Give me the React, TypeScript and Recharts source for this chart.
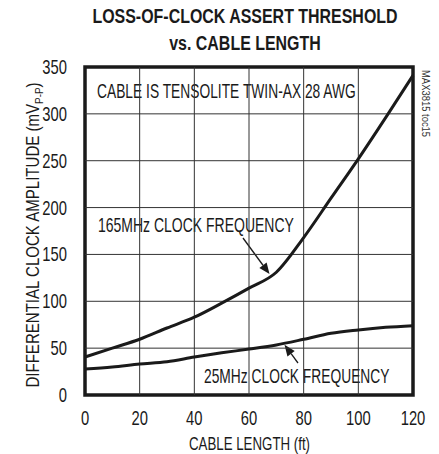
import { LineChart, Line, XAxis, YAxis, ReferenceLine, ReferenceArea, Customized } from 'recharts';

// cable length in feet
const lengths = [0, 10, 20, 30, 40, 50, 60, 70, 80, 90, 100, 110, 120];
// loss-of-clock assert threshold, mVp-p
const clk165 = [40.5, 50, 59.5, 71.5, 83, 98, 114, 131, 168, 210, 252, 296, 341];
const clk25 = [27.7, 30, 33, 35.5, 40.5, 45, 49, 53.4, 59.4, 65.8, 69.4, 72.2, 74];
const xTicks = [0, 20, 40, 60, 80, 100, 120];
const yTicks = [0, 50, 100, 150, 200, 250, 300, 350];

const data = lengths.map((len, i) => ({ len, f165: clk165[i], f25: clk25[i] }));

const W = 439;
const H = 454;
const PLOT = { left: 85, top: 67, right: 413, bottom: 395 };
const FONT = '"Liberation Sans", Arial, sans-serif';
const INK = '#1a1a1a';

// data -> pixel, only used to place the annotation boxes and arrows
const px = (v: number) => PLOT.left + (v / 120) * (PLOT.right - PLOT.left);
const py = (v: number) => PLOT.bottom - (v / 350) * (PLOT.bottom - PLOT.top);

// the original uses a condensed face, so squeeze Liberation Sans horizontally
function Narrow({ x, y, sx = 0.7, size = 20, anchor = 'start', weight, children }: any) {
  return (
    <text
      transform={`translate(${x},${y}) scale(${sx},1)`}
      fontSize={size}
      fontWeight={weight}
      textAnchor={anchor}
      fill={INK}
    >
      {children}
    </text>
  );
}

function XTick({ x, y, payload }: any) {
  return (
    <g fontFamily={FONT}>
      <Narrow x={x} y={y + 25} anchor="middle" sx={0.74}>
        {String(payload.value)}
      </Narrow>
    </g>
  );
}

function YTick({ x, y, payload }: any) {
  return (
    <g fontFamily={FONT}>
      <Narrow x={x} y={y + 7} anchor="end" sx={0.74}>
        {String(payload.value)}
      </Narrow>
    </g>
  );
}

function Arrow({ x1, y1, x2, y2 }: { x1: number; y1: number; x2: number; y2: number }) {
  const a = Math.atan2(y2 - y1, x2 - x1);
  const len = 11;
  const w = 4.5;
  const bx = x2 - len * Math.cos(a);
  const by = y2 - len * Math.sin(a);
  const p1 = `${bx + w * Math.sin(a)},${by - w * Math.cos(a)}`;
  const p2 = `${bx - w * Math.sin(a)},${by + w * Math.cos(a)}`;
  return (
    <g>
      <line x1={x1} y1={y1} x2={bx} y2={by} stroke={INK} strokeWidth={1.3} />
      <polygon points={`${x2},${y2} ${p1} ${p2}`} fill={INK} />
    </g>
  );
}

function Boxes() {
  return (
    <g>
      <rect x={px(4)} y={74} width={px(99) - px(4)} height={28} fill="#fff" />
      <rect x={px(4)} y={212} width={px(78) - px(4)} height={26} fill="#fff" />
      <rect x={px(42)} y={364} width={px(117) - px(42)} height={27} fill="#fff" />
    </g>
  );
}

function Overlay() {
  return (
    <g fontFamily={FONT}>
      {/* title */}
      <Narrow x={245} y={23} size={21} sx={0.76} weight="bold" anchor="middle">
        LOSS-OF-CLOCK ASSERT THRESHOLD
      </Narrow>
      <Narrow x={245} y={50} size={21} sx={0.76} weight="bold" anchor="middle">
        vs. CABLE LENGTH
      </Narrow>

      {/* y axis title */}
      <text
        transform="translate(39, 235) rotate(-90) scale(0.86,1)"
        textAnchor="middle"
        fontSize={17.5}
        fill={INK}
      >
        DIFFERENTIAL CLOCK AMPLITUDE (mV
        <tspan fontSize={11.5} dy={4}>P-P</tspan>
        <tspan dy={-4}>)</tspan>
      </text>

      {/* x axis title */}
      <Narrow x={249.5} y={450} size={19} sx={0.7} anchor="middle">
        CABLE LENGTH (ft)
      </Narrow>

      {/* side code */}
      <text transform="translate(422, 70) rotate(90) scale(0.9,1)" fontSize={10.5} fill="#333">
        MAX3815 toc15
      </text>

      <Narrow x={97} y={98} sx={0.69}>CABLE IS TENSOLITE TWIN-AX 28 AWG</Narrow>
      <Narrow x={98} y={232} sx={0.7}>165MHz CLOCK FREQUENCY</Narrow>
      <Narrow x={204} y={383} sx={0.69}>25MHz CLOCK FREQUENCY</Narrow>

      <Arrow x1={243} y1={238} x2={px(67.5)} y2={py(129)} />
      <Arrow x1={298} y1={363} x2={px(73)} y2={py(53.5)} />
    </g>
  );
}

export default function App() {
  return (
    <div style={{ position: 'absolute', left: 0, top: 0, width: W, height: H, background: '#fff' }}>
      <LineChart
        width={W}
        height={H}
        data={data}
        margin={{ top: PLOT.top, right: W - PLOT.right, left: 0, bottom: 0 }}
      >
        <XAxis
          dataKey="len"
          type="number"
          domain={[0, 120]}
          ticks={xTicks}
          height={H - PLOT.bottom}
          tickSize={0}
          tickMargin={5}
          axisLine={false}
          tick={<XTick />}
        />
        <YAxis
          type="number"
          domain={[0, 350]}
          ticks={yTicks}
          width={PLOT.left}
          tickSize={0}
          tickMargin={18}
          axisLine={false}
          tick={<YTick />}
        />
        {xTicks.slice(1, -1).map((t) => (
          <ReferenceLine key={'x' + t} x={t} stroke="#333" strokeWidth={1} />
        ))}
        {yTicks.slice(1, -1).map((t) => (
          <ReferenceLine key={'y' + t} y={t} stroke="#333" strokeWidth={1} />
        ))}
        <Customized component={Boxes} />
        <Customized component={Overlay} />
        <ReferenceArea x1={0} x2={120} y1={0} y2={350} fill="none" stroke={INK} strokeWidth={3.5} />
        <Line type="monotone" dataKey="f165" stroke={INK} strokeWidth={3} dot={false} isAnimationActive={false} />
        <Line type="monotone" dataKey="f25" stroke={INK} strokeWidth={3} dot={false} isAnimationActive={false} />
      </LineChart>
    </div>
  );
}
